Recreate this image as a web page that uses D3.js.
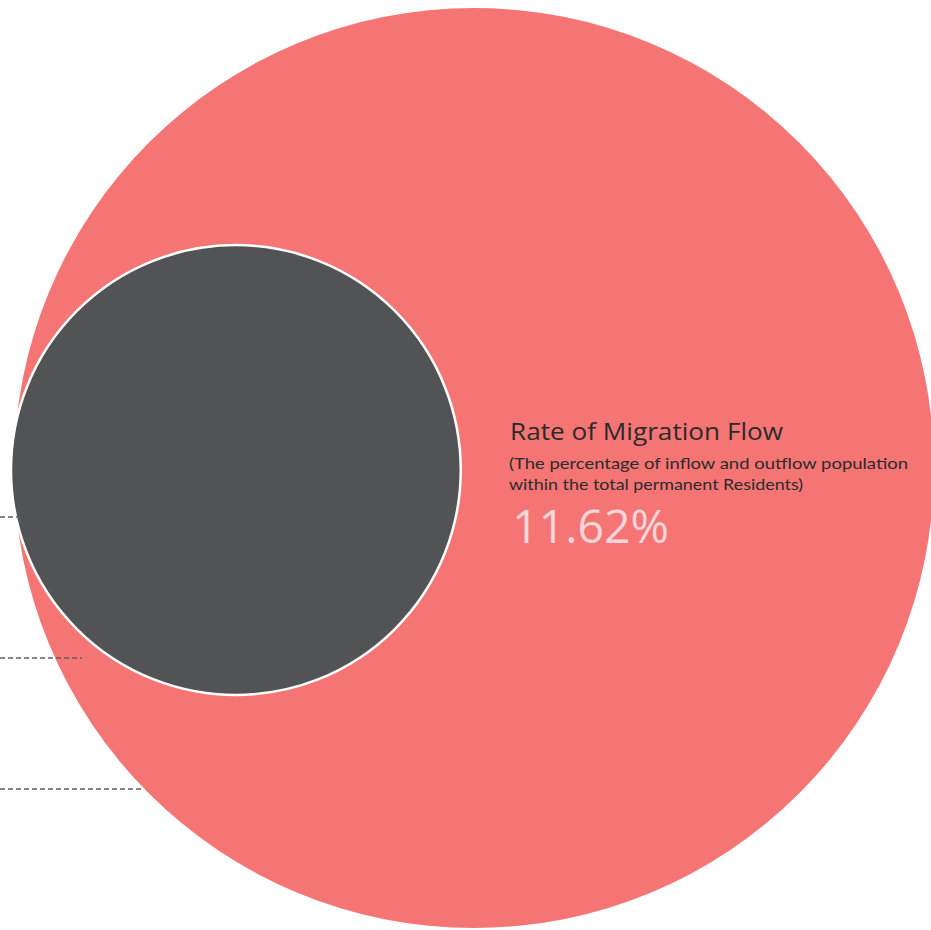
<!DOCTYPE html>
<html>
<head>
<meta charset="utf-8">
<script src="https://cdn.jsdelivr.net/npm/d3@7"></script>
<style>
  html, body { margin: 0; padding: 0; background: #fff; overflow: hidden; }
  svg { display: block; }
</style>
</head>
<body>
<svg id="chart" width="931" height="930"></svg>
<script>
// data
const circleNames = ["Total permanent residents", "Migration group"];
const circleValues = [100, 23.9];
const rateLabel = ["Rate of Migration Flow"];
const rateNote = ["(The percentage of inflow and outflow population", "within the total permanent Residents)"];
const rateValue = [11.62];

const svg = d3.select("#chart");
const width = +svg.attr("width");
const height = +svg.attr("height");

// area scale, biggest circle radius 460
const r = d3.scaleSqrt().domain([0, d3.max(circleValues)]).range([0, 460]);

const bigR = r(circleValues[0]);
const smallR = r(circleValues[1]);
const bigCx = 474, bigCy = 468;
const smallCx = bigCx - bigR + smallR - 3, smallCy = 470;

svg.append("circle")
    .attr("cx", bigCx)
    .attr("cy", bigCy)
    .attr("r", bigR)
    .style("fill", "#f47574");

svg.append("circle")
    .attr("cx", smallCx)
    .attr("cy", smallCy)
    .attr("r", smallR)
    .style("fill", "#525355")
    .style("stroke", "#fff")
    .style("stroke-width", 2.5);

// leader lines running off to the left
const leaders = [{y: 517, x2: 22}, {y: 658, x2: 82}, {y: 789, x2: 143}];
svg.append("g")
    .selectAll("line")
    .data(leaders)
    .enter().append("line")
      .attr("x1", 0)
      .attr("x2", function(d) { return d.x2; })
      .attr("y1", function(d) { return d.y; })
      .attr("y2", function(d) { return d.y; })
      .style("stroke", "#5f5f5f")
      .style("stroke-width", 1.6)
      .style("stroke-dasharray", "5,3");

// labels
const tx = 509;
svg.append("text")
    .attr("x", tx + 1)
    .attr("y", 440)
    .attr("textLength", 273)
    .attr("lengthAdjust", "spacingAndGlyphs")
    .style("font-family", "'Open Sans', sans-serif")
    .style("font-size", "24.5px")
    .style("fill", "#2b2b2b")
    .text(rateLabel[0]);

const noteWidths = [399, 294];
svg.append("g")
    .selectAll("text")
    .data(rateNote)
    .enter().append("text")
      .attr("x", tx)
      .attr("y", function(d, i) { return 469 + i * 21; })
      .attr("textLength", function(d, i) { return noteWidths[i]; })
      .attr("lengthAdjust", "spacingAndGlyphs")
      .style("font-family", "Lato, sans-serif")
      .style("font-size", "16px")
      .style("fill", "#2b2b2b")
      .text(function(d) { return d; });

svg.append("text")
    .attr("x", tx + 3)
    .attr("y", 543)
    .attr("textLength", 157)
    .attr("lengthAdjust", "spacingAndGlyphs")
    .style("font-family", "'Open Sans', sans-serif")
    .style("font-size", "46px")
    .style("fill", "#f6d6da")
    .text(d3.format(".2f")(rateValue[0]) + "%");
</script>
</body>
</html>
